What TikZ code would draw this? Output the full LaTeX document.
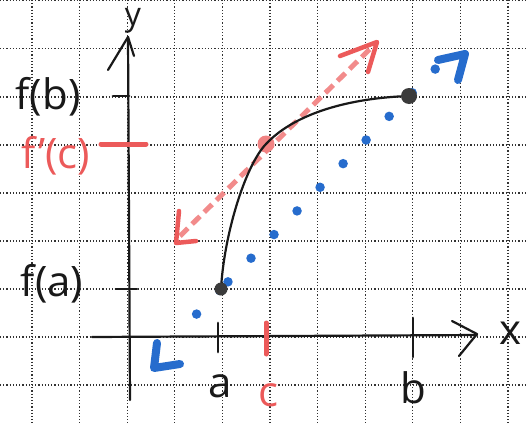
\documentclass[tikz,border=0pt]{standalone}
\usepackage{fontspec}
\setmainfont{Open Sans}
\usetikzlibrary{calc}
\definecolor{penblue}{RGB}{38,108,205}
\definecolor{penred}{RGB}{236,90,90}
\definecolor{ink}{RGB}{25,25,25}
\definecolor{gridc}{RGB}{50,50,50}
\tikzset{
  gridline/.style={gridc, line width=1.3pt, dash pattern=on 1.2pt off 2pt},
  axis/.style={ink, line width=2.2pt, line cap=round, line join=round},
  tickmark/.style={ink, line width=2.8pt, line cap=round},
  redtick/.style={penred, line width=5pt, line cap=round},
  hand/.style={ink, font=\fontsize{42}{44}\selectfont, inner sep=0pt},
  smallhand/.style={ink, font=\fontsize{32}{34}\selectfont, inner sep=0pt},
  redhand/.style={penred, font=\fontsize{42}{44}\selectfont, inner sep=0pt},
  bluehead/.style={penblue, line width=8pt, line cap=round, line join=round},
  redhead/.style={penred, line width=4.5pt, line cap=round, line join=round},
}
\begin{document}
\begin{tikzpicture}[x=1pt,y=-1pt]
\useasboundingbox (0,0) rectangle (527,423);
\fill[white] (0,0) rectangle (527,423);
% grid
\foreach \gx in {32,79.6,127.2,174.8,222.4,270,317.6,365.2,412.8,460.4,508}
  \draw[gridline] (\gx,0) -- (\gx,423);
\foreach \gy in {0.5,48.5,97,145,193,241,289,337,385}
  \draw[gridline] (0,\gy) -- (527,\gy);

% key points
\coordinate (A) at (221,289);
\coordinate (B) at (409,96);
\coordinate (T) at (266,144);

% blue secant (dotted)
\draw[penblue, line width=9.5pt, line cap=round, dash pattern=on 0pt off 33pt, dash phase=-2pt] (A) -- ($(A)!-0.2!(B)$);
\draw[penblue, line width=9.5pt, line cap=round, dash pattern=on 0pt off 33pt, dash phase=-10pt] (A) -- ($(A)!1.14!(B)$);
% blue heads
\draw[bluehead] (438,60) -- (465,54) -- (458,80);
\draw[bluehead] (157,343) -- (154,368) -- (180,364);

% red tangent (dashed)
\coordinate (R1) at (180,236);
\coordinate (R2) at (375,44);
\draw[penred!70, line width=5pt, dash pattern=on 11pt off 6pt] (R1) -- (R2);
\draw[redhead] (340,56) -- (377,42) -- (368,72);
\draw[redhead] (179,211) -- (176,243) -- (196,241);
\fill[penred!75] (T) circle (8.5pt);

% axes
\coordinate (O1) at (92,337);
\coordinate (XE) at (477,335);
\coordinate (YB) at (130,400);
\coordinate (YE) at (128,37);
\draw[axis] (O1) -- (XE);
\draw[axis] (452,321) -- (477,334) -- (459,356);
\draw[axis] (YB) -- (YE);
\draw[axis] (108,70) -- (128,37) -- (134,56);

% ticks
\draw[tickmark] (113,96) -- (129,96);
\draw[tickmark] (116,289) -- (137,289);
\draw[redtick] (101,144) -- (146,144);
\draw[tickmark] (218,323) -- (218,352);
\draw[redtick] (266,323) -- (266,354);
\draw[tickmark] (413,318) -- (413,357);

% curve
\draw[ink, line width=2.2pt] (A) .. controls (224,235) and (245,166) .. (T)
  .. controls (295,113) and (350,98) .. (B);
\fill[ink!85] (A) circle (6.5pt);
\fill[ink!85] (B) circle (8pt);

% labels
\node[smallhand, anchor=north] (ly) at (133,8) {y};
\node[hand] (lx) at (510,333) {x};
\node[hand] (lfb) at (48,97) {f(b)};
\node[redhand] (lfc) at (56,156) {f'(c)};
\node[hand] (lfa) at (52,284) {f(a)};
\node[hand] (la) at (220,386) {a};
\node[redhand] (lc) at (268,395) {c};
\node[hand] (lb) at (413,388) {b};
\end{tikzpicture}
\end{document}
